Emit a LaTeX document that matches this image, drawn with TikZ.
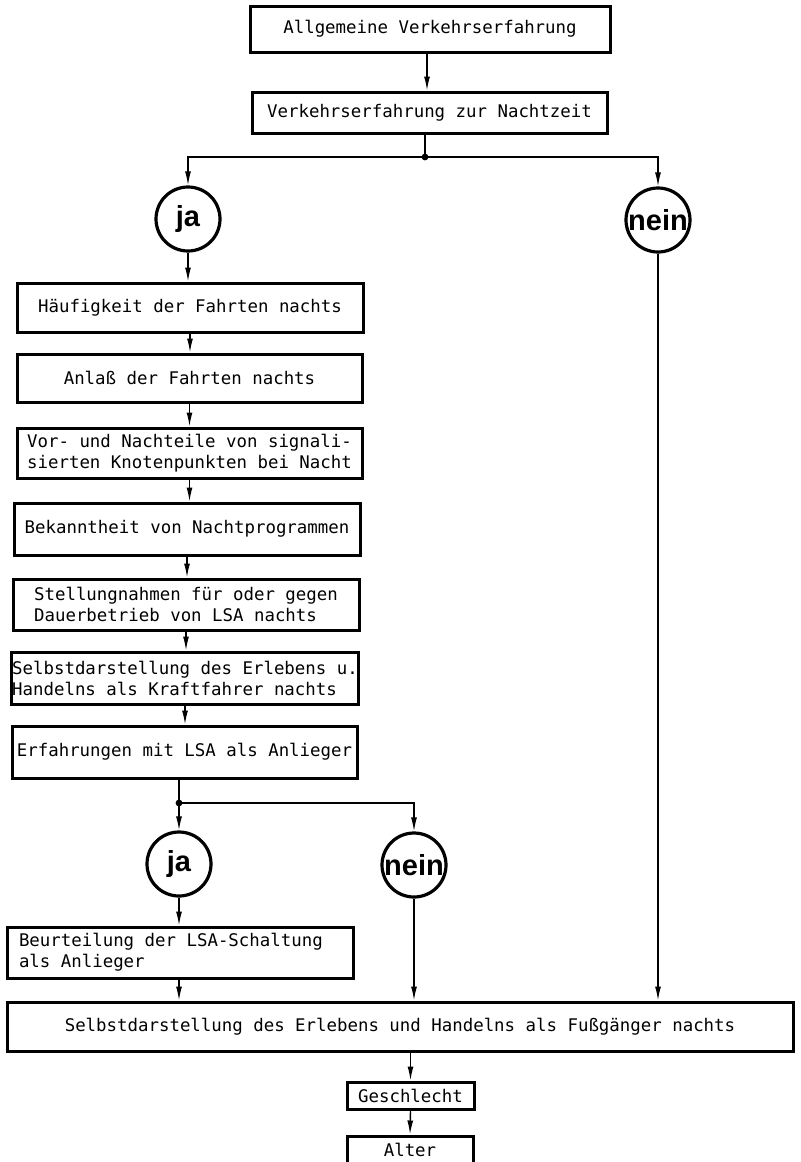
\documentclass[tikz,border=0pt]{standalone}
\usepackage{fontspec}
\setmonofont{DejaVu Sans Mono}
\newfontfamily\answerfont{Liberation Sans}
\usetikzlibrary{arrows.meta}

\tikzset{
    box/.style={draw, line width=1.5pt, inner sep=1pt, align=left,
        font=\ttfamily\fontsize{8.7}{10.5}\selectfont},
    answer/.style={draw, circle, line width=1.6pt, minimum size=32pt, inner sep=0pt,
        font=\answerfont\bfseries\fontsize{14.5}{16}\selectfont},
    link/.style={line width=0.7pt, -{Latex[length=7pt,width=3pt]}},
    joint/.style={line width=0.7pt},
}

\begin{document}
\begin{tikzpicture}[x=0.5pt, y=-0.5pt]
            \useasboundingbox (0, 0) rectangle (801, 1162);
            \clip (0, 0) rectangle (801, 1162);

            %%top
            \node[box, minimum width=180pt, minimum height=23pt] (allg) at(430, 29){Allgemeine Verkehrserfahrung};
            \node[box, minimum width=177.5pt, minimum height=20.5pt] (nacht) at(429.5, 112.5){Verkehrserfahrung zur Nachtzeit};
            \coordinate (split1) at(425, 157);
            \node[answer] (ja1) at(188, 219){ja};
            \node[answer] (nein1) at(658, 220){nein};

            %%left column
            \node[box, minimum width=173pt, minimum height=24.5pt] (haeuf) at(190, 307.5){Häufigkeit der Fahrten nachts};
            \node[box, minimum width=172.5pt, minimum height=24pt] (anlass) at(189.5, 378){Anlaß der Fahrten nachts};
            \node[box, minimum width=172.5pt, minimum height=25pt] (vorteile) at(189.5, 453){Vor- und Nachteile von signali-\\sierten Knotenpunkten bei Nacht};
            \node[box, minimum width=173pt, minimum height=26pt] (bekannt) at(187, 529){Bekanntheit von Nachtprogrammen};
            \node[box, minimum width=173pt, minimum height=25.5pt] (stellung) at(186, 604.5){Stellungnahmen für oder gegen\\Dauerbetrieb von LSA nachts};
            \node[box, minimum width=173pt, minimum height=26pt, inner xsep=0.5pt] (kraft) at(185, 678){Selbstdarstellung des Erlebens u.\\Handelns als Kraftfahrer nachts};
            \node[box, minimum width=172.5pt, minimum height=26pt] (erfahr) at(184.5, 752){Erfahrungen mit LSA als Anlieger};
            \coordinate (split2) at(179, 803);
            \node[answer] (ja2) at(179, 864){ja};
            \node[answer] (nein2) at(414, 865){nein};
            \node[box, minimum width=173pt, minimum height=25.5pt] (beurt) at(180, 952.5){\makebox[161pt][l]{Beurteilung der LSA-Schaltung}\\als Anlieger};

            %%bottom
            \node[box, minimum width=393pt, minimum height=24.5pt] (fuss) at(400, 1026.5){Selbstdarstellung des Erlebens und Handelns als Fußgänger nachts};
            \node[box, minimum width=63.5pt, minimum height=13.5pt, inner sep=0pt] (geschl) at(410.5, 1095.5){Geschlecht};
            \node[box, minimum width=63pt, minimum height=14pt, inner sep=0pt] (alter) at(410, 1150){Alter};

            %%arrows
            \draw[link] (allg.south -| 427, 0) to (nacht.north -| 427, 0);
            \draw[joint] (nacht.south -| split1) to (split1);
            \fill (split1) circle (1.7pt);
            \draw[link] (split1) -| (ja1.north);
            \draw[link] (split1) -| (nein1.north);
            \draw[link] (ja1.south) to (haeuf.north -| ja1.south);
            \draw[link] (haeuf.south) to (haeuf.south |- anlass.north);
            \draw[link] (anlass.south) to (anlass.south |- vorteile.north);
            \draw[link] (vorteile.south) to (vorteile.south |- bekannt.north);
            \draw[link] (bekannt.south) to (bekannt.south |- stellung.north);
            \draw[link] (stellung.south) to (stellung.south |- kraft.north);
            \draw[link] (kraft.south) to (kraft.south |- erfahr.north);
            \draw[joint] (erfahr.south -| split2) to (split2);
            \fill (split2) circle (1.7pt);
            \draw[link] (split2) to (ja2.north);
            \draw[link] (split2) -| (nein2.north);
            \draw[link] (ja2.south) to (beurt.north -| ja2.south);
            \draw[link] (beurt.south -| ja2.south) to (fuss.north -| ja2.south);
            \draw[link] (nein2.south) to (fuss.north -| nein2.south);
            \draw[link] (nein1.south) to (fuss.north -| nein1.south);
            \draw[link] (fuss.south -| geschl) to (geschl.north);
            \draw[link] (geschl.south) to (alter.north);
\end{tikzpicture}
\end{document}
